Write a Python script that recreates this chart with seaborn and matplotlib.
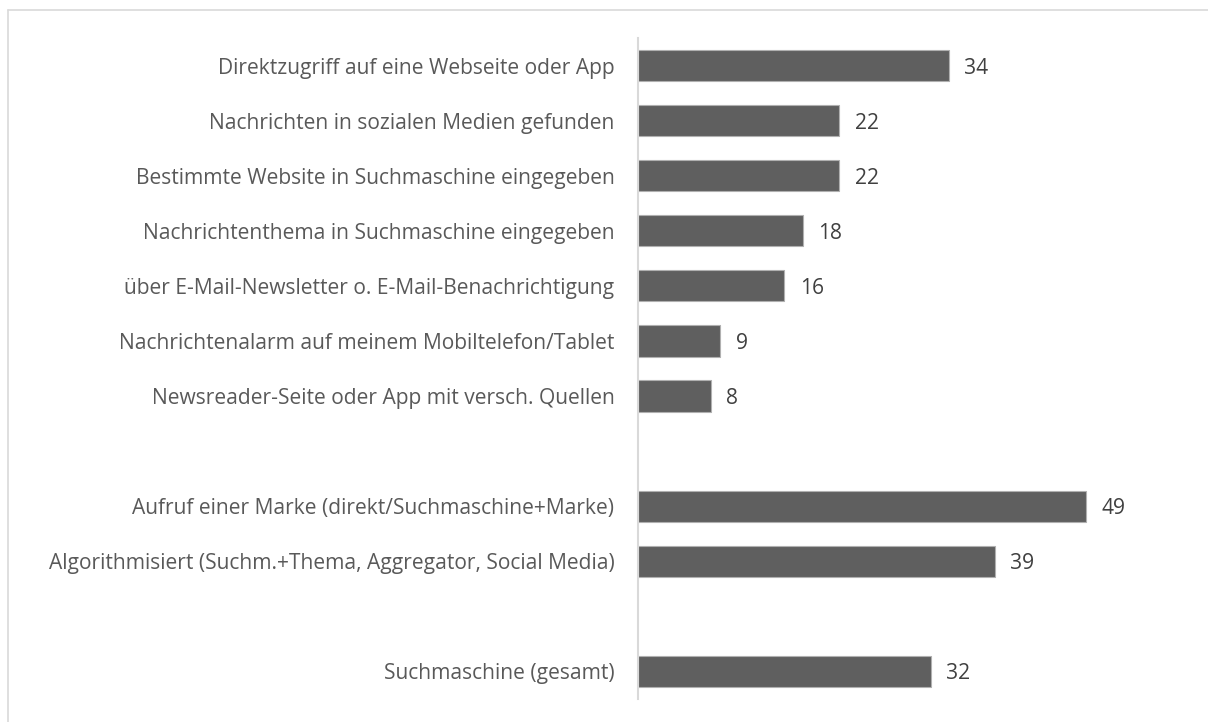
import matplotlib
matplotlib.use("Agg")
import matplotlib.pyplot as plt
import seaborn as sns
import pandas as pd
from matplotlib.lines import Line2D

categories = [
    "Direktzugriff auf eine Webseite oder App",
    "Nachrichten in sozialen Medien gefunden",
    "Bestimmte Website in Suchmaschine eingegeben",
    "Nachrichtenthema in Suchmaschine eingegeben",
    "über E-Mail-Newsletter o. E-Mail-Benachrichtigung",
    "Nachrichtenalarm auf meinem Mobiltelefon/Tablet",
    "Newsreader-Seite oder App mit versch. Quellen",
    "Aufruf einer Marke (direkt/Suchmaschine+Marke)",
    "Algorithmisiert (Suchm.+Thema, Aggregator, Social Media)",
    "Suchmaschine (gesamt)",
]
values = [34, 22, 22, 18, 16, 9, 8, 49, 39, 32]
# Slot order on the axis, with two empty spacer rows
order = categories[:7] + [" "] + categories[7:9] + ["  "] + categories[9:]

sns.set_theme(style="white")
plt.rcParams["font.family"] = ["Open Sans", "DejaVu Sans"]

fig = plt.figure(figsize=(12.08, 7.22), dpi=100)
ax = fig.add_axes([638 / 1208, 1 - 699 / 722, (1187 - 638) / 1208, (699 - 38) / 722])

df = pd.DataFrame({"Kategorie": categories, "Wert": values})
sns.barplot(data=df, x="Wert", y="Kategorie", order=order, orient="h",
            color="#5f5f5f", saturation=1, width=0.567,
            edgecolor="#b0b0b0", linewidth=0.8, ax=ax)

ax.set_xlim(0, 60)
ax.set_ylim(11.5, -0.5)
ax.set_xlabel("")
ax.set_ylabel("")
ax.set_xticks([])
ax.tick_params(axis="y", length=0, pad=17, labelsize=15.1, labelcolor="#595959")
for s in ["top", "right", "bottom"]:
    ax.spines[s].set_visible(False)
ax.spines["left"].set_color("#d9d9d9")
ax.spines["left"].set_linewidth(1.5)

for c in ax.containers:
    texts = ax.bar_label(c, fmt="%d", padding=11, fontsize=15.1, color="#404040")
    for t in texts:
        t.set_va("center_baseline")

# outer frame (top and left edges visible)
fig.add_artist(Line2D([8 / 1208, 1], [1 - 10 / 722, 1 - 10 / 722], color="#d9d9d9", lw=1.2, transform=fig.transFigure))
fig.add_artist(Line2D([8 / 1208, 8 / 1208], [0, 1 - 10 / 722], color="#d9d9d9", lw=1.2, transform=fig.transFigure))

fig.savefig("out.png", dpi=100)
